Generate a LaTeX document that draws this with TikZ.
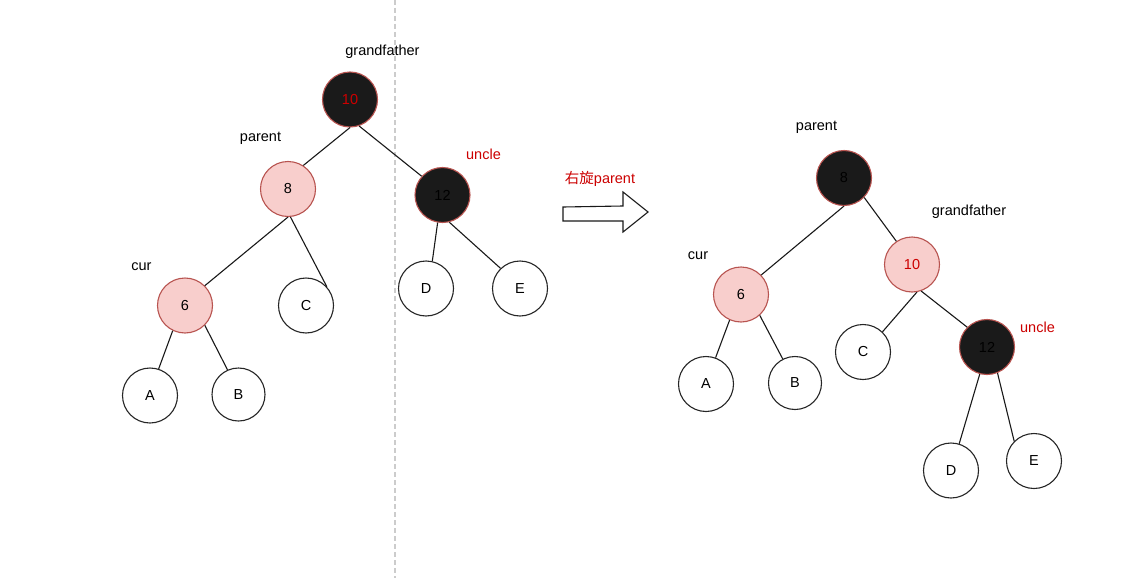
\documentclass[tikz,border=0pt]{standalone}
\usepackage{fontspec}
\setmainfont{Liberation Sans}
\newfontfamily\cjk{Noto Sans CJK SC}
\definecolor{pinkfill}{HTML}{F8CECC}
\definecolor{redstroke}{HTML}{B85450}
\definecolor{nodeblack}{HTML}{1A1A1A}
\definecolor{labred}{HTML}{CC0000}
\definecolor{divgray}{HTML}{CCCCCC}
\tikzset{
  base/.style={circle, line width=1.1pt, minimum size=55pt, inner sep=0pt, font=\fontsize{14.5}{17}\selectfont},
  wnode/.style={base, draw=black!85, fill=white},
  pnode/.style={base, draw=redstroke, fill=pinkfill},
  bnode/.style={base, draw=redstroke, fill=nodeblack},
  lbl/.style={inner sep=0pt, font=\fontsize{14.5}{17}\selectfont},
  rlbl/.style={lbl, text=labred},
  edge/.style={line width=1.1pt, black!90},
}
\begin{document}
\begin{tikzpicture}[x=1pt,y=-1pt]
\useasboundingbox (0,0) rectangle (1129,578);
\fill[white] (0,0) rectangle (1129,578);
% divider
\coordinate (dtop) at (395,0);
\coordinate (dbot) at (395,578);
\draw[divgray, line width=1.3pt, dash pattern=on 5pt off 3pt] (dtop) -- (dbot);

% ---------- left tree ----------
\node[bnode, text=labred] (L10) at (350,99.5) {10};
\node[pnode] (L8) at (288,189) {8};
\node[bnode, text=black] (L12) at (442.5,195) {12};
\node[pnode] (L6) at (185,305.5) {6};
\node[wnode] (LC) at (306,305.5) {C};
\node[wnode] (LD) at (426,288.5) {D};
\node[wnode] (LE) at (520,288.5) {E};
\node[wnode] (LA) at (150,395.5) {A};
\node[wnode, minimum size=53pt] (LB) at (238.5,394.5) {B};

\node[lbl] (lg) at (382.5,52) {grandfather};
\node[lbl] (lp) at (260.5,138) {parent};
\node[rlbl] (lu) at (483.5,154) {uncle};
\node[lbl] (lc) at (141.5,267) {cur};

\draw[edge] (L10.south) -- (L8.57);
\draw[edge] (L10.-71) -- (L12.138);
\draw[edge] (L8.south) -- (L6.45);
\draw[edge] (L8.-85) -- (LC.42);
\draw[edge] (L6.-116) -- (LA.72);
\draw[edge] (L6.-45) -- (LB.114);
\draw[edge] (L12.-100) -- (LD.77);
\draw[edge] (L12.-76) -- (LE.134);

% ---------- arrow ----------
\node[rlbl] (rot) at (600,179) {{\cjk 右旋}parent};
\draw[line width=1.1pt, black!90, fill=white]
  (563,207) -- (623,206) -- (623,192) -- (648,212) -- (623,232) -- (623,221) -- (563,221) -- cycle;

% ---------- right tree ----------
\node[bnode, text=black] (R8) at (844,178) {8};
\node[pnode, text=labred] (R10) at (912,264.5) {10};
\node[pnode] (R6) at (741,294.5) {6};
\node[wnode] (RC) at (863,352) {C};
\node[bnode, text=black] (R12) at (987,347) {12};
\node[wnode] (RA) at (706,384) {A};
\node[wnode, minimum size=53pt] (RB) at (795,383) {B};
\node[wnode] (RD) at (951,470.5) {D};
\node[wnode] (RE) at (1034,461) {E};

\node[lbl] (rp) at (816.5,127) {parent};
\node[lbl] (rg) at (969,212) {grandfather};
\node[lbl] (rc) at (698,256) {cur};
\node[rlbl] (ru) at (1037.5,327) {uncle};

\draw[edge] (R8.south) -- (R6.44);
\draw[edge] (R8.-44) -- (R10.124);
\draw[edge] (R10.-80) -- (RC.46);
\draw[edge] (R10.-71) -- (R12.135);
\draw[edge] (R6.-114) -- (RA.70);
\draw[edge] (R6.-48) -- (RB.117);
\draw[edge] (R12.-105) -- (RD.73);
\draw[edge] (R12.-68) -- (RE.135);
\end{tikzpicture}
\end{document}
